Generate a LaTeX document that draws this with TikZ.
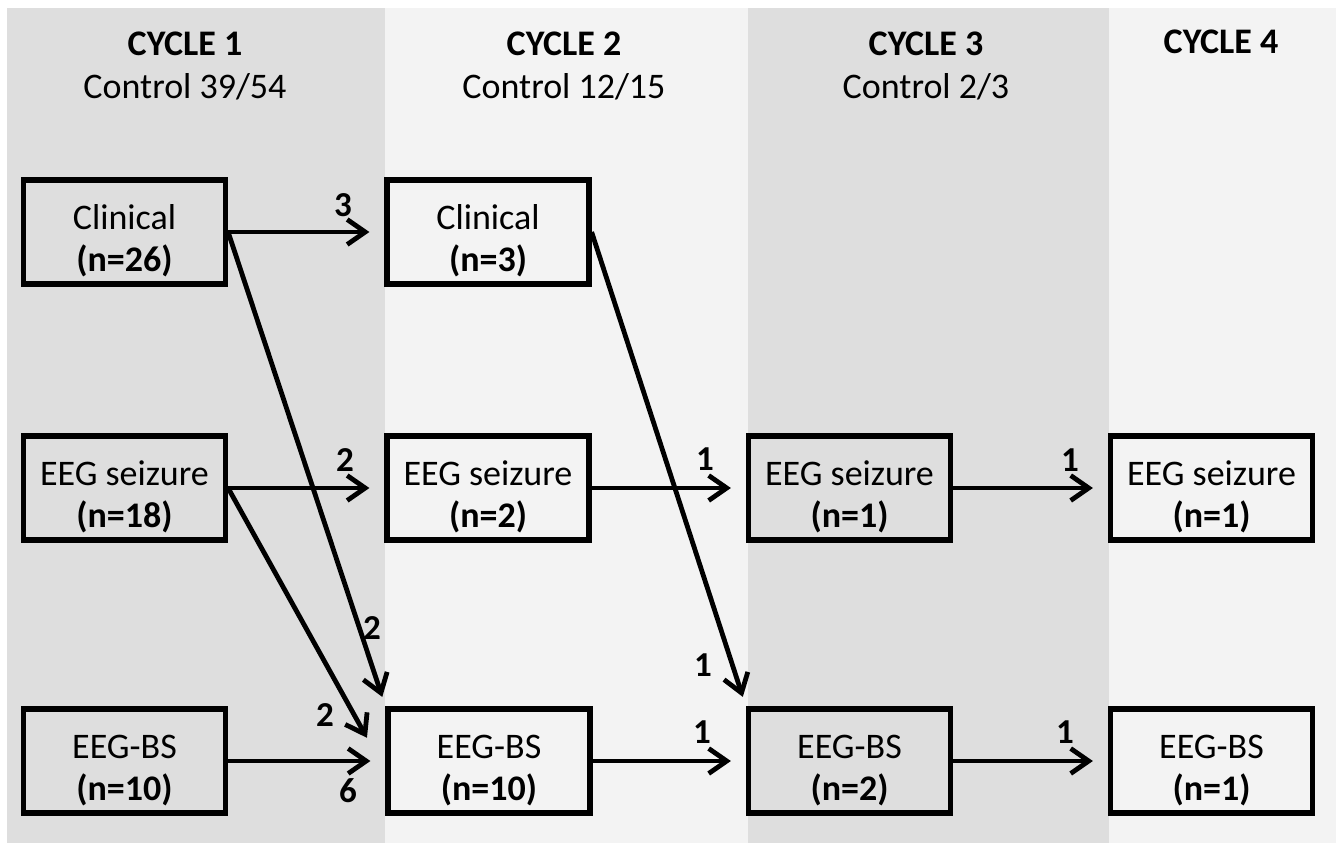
\documentclass[tikz,border=0pt]{standalone}
\usepackage{fontspec}
\setmainfont{Carlito}
\usetikzlibrary{arrows.meta}
\definecolor{bgdark}{RGB}{222,222,222}
\definecolor{bglight}{RGB}{243,243,243}
\newcommand\boxtext[2]{\rule{0pt}{21.5pt}#1\\\textbf{#2}}
\begin{document}
\begin{tikzpicture}[x=0.5pt,y=-0.5pt,
  every node/.style={font=\fontsize{18pt}{21pt}\selectfont},
  box/.style={draw, line width=2.6pt, minimum width=101pt, minimum height=52pt, align=center, inner sep=0pt},
  arr/.style={line width=2.4pt, -{Straight Barb[length=9pt,width=12.5pt]}, shorten >=7.5pt},
  lab/.style={font=\fontsize{17.5pt}{17.5pt}\selectfont\bfseries, inner sep=0pt},
  head/.style={align=center, font=\fontsize{18pt}{21.5pt}\selectfont}]
\fill[white] (0,0) rectangle (1342,846);
\useasboundingbox (0,0) rectangle (1342,846);
% column panels
\fill[bgdark] (7,8) rectangle (385,843);
\fill[bglight] (385,8) rectangle (748,843);
\fill[bgdark] (748,8) rectangle (1109,843);
\fill[bglight] (1109,8) rectangle (1336,843);
% headers
\node[head] (h1) at (185,66) {\textbf{CYCLE 1}\\Control 39/54};
\node[head] (h2) at (564,66) {\textbf{CYCLE 2}\\Control 12/15};
\node[head] (h3) at (926,66) {\textbf{CYCLE 3}\\Control 2/3};
\node[head, anchor=base] (h4) at (1221,54) {\textbf{CYCLE 4}};
% boxes
\node[box] (c1cl) at (124.5,232) {\boxtext{Clinical}{(n=26)}};
\node[box] (c1sz) at (124.5,488) {\boxtext{EEG seizure}{(n=18)}};
\node[box] (c1bs) at (124.5,761) {\boxtext{EEG-BS}{(n=10)}};
\node[box] (c2cl) at (488,232) {\boxtext{Clinical}{(n=3)}};
\node[box] (c2sz) at (488,488) {\boxtext{EEG seizure}{(n=2)}};
\node[box] (c2bs) at (489,761) {\boxtext{EEG-BS}{(n=10)}};
\node[box] (c3sz) at (849.5,488) {\boxtext{EEG seizure}{(n=1)}};
\node[box] (c3bs) at (849.5,761) {\boxtext{EEG-BS}{(n=2)}};
\node[box] (c4sz) at (1211.5,488) {\boxtext{EEG seizure}{(n=1)}};
\node[box] (c4bs) at (1211.5,761) {\boxtext{EEG-BS}{(n=1)}};
% connectors
\draw[arr] (c1cl.east) -- (c2cl.west);
\draw[arr, shorten >=5pt] (c1cl.east) -- (c2bs.north west);
\draw[arr] (c1sz.east) -- (c2sz.west);
\draw[arr, shorten >=19pt] (c1sz.east) -- ([yshift=-5pt]c2bs.west);
\draw[arr] (c1bs.east) -- (c2bs.west);
\draw[arr, shorten >=5pt] (c2cl.east) -- (c3bs.north west);
\draw[arr] (c2sz.east) -- (c3sz.west);
\draw[arr] (c2bs.east) -- (c3bs.west);
\draw[arr] (c3sz.east) -- (c4sz.west);
\draw[arr] (c3bs.east) -- (c4bs.west);
% labels
\node[lab] (l1) at (343,205) {3};
\node[lab] (l2) at (372,628) {2};
\node[lab] (l3) at (345,460) {2};
\node[lab] (l4) at (325,715) {2};
\node[lab] (l5) at (348,791) {6};
\node[lab] (l6) at (703,665) {1};
\node[lab] (l7) at (705,459) {1};
\node[lab] (l8) at (702,732) {1};
\node[lab] (l9) at (1070,460) {1};
\node[lab] (l10) at (1065,732) {1};
\end{tikzpicture}
\end{document}
